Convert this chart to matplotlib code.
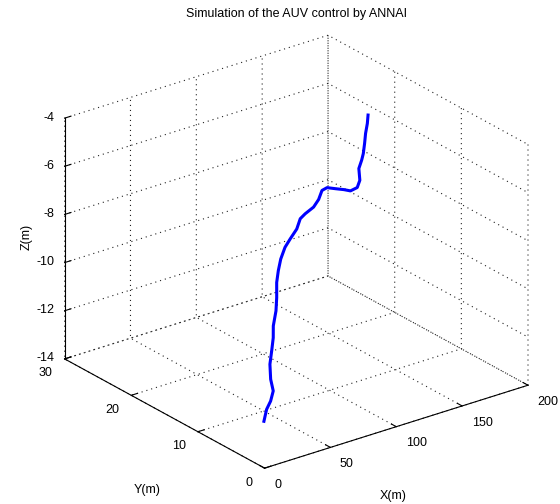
import matplotlib
matplotlib.use("Agg")
import matplotlib.pyplot as plt
from mpl_toolkits.mplot3d import Axes3D  # noqa: F401

plt.rcParams["font.family"] = ["Liberation Sans", "DejaVu Sans"]
plt.rcParams["axes.unicode_minus"] = False

# AUV trajectory
x_m = [41.0, 43.9, 47.8, 50.6, 49.5, 49.8, 52.0, 54.0, 54.9, 57.8, 59.2, 60.0,
       62.1, 64.8, 68.9, 73.6, 79.5, 83.0, 87.6, 94.8, 99.5, 102.9, 107.6,
       114.7, 122.0, 127.9, 133.9, 136.7, 136.8, 139.8, 141.9, 143.7, 145.3,
       147.5, 148.9]
y_m = [8.2, 8.37, 8.54, 8.7, 8.87, 9.04, 9.21, 9.37, 9.54, 9.71, 9.88, 10.04,
       10.21, 10.38, 10.55, 10.71, 10.88, 11.05, 11.22, 11.38, 11.55, 11.72,
       11.89, 12.05, 12.22, 12.39, 12.56, 12.72, 12.89, 13.06, 13.23, 13.39,
       13.56, 13.73, 13.9]
z_m = [-14.0, -13.58, -13.33, -12.98, -12.50, -11.91, -11.42, -10.93, -10.48,
       -9.93, -9.43, -8.84, -8.41, -8.0, -7.61, -7.37, -7.08, -6.74, -6.64,
       -6.51, -6.30, -6.01, -6.0, -6.19, -6.38, -6.56, -6.55, -6.32, -5.86,
       -5.59, -5.38, -5.01, -4.65, -4.30, -4.0]

x_ticks = [0, 50, 100, 150, 200]
y_ticks = [0, 10, 20, 30]
z_ticks = [-14, -12, -10, -8, -6, -4]

fig = plt.figure(figsize=(5.6, 5.04), dpi=100)
ax = fig.add_axes([(44 - 6.5) / 560, -6.5 / 504, 504 / 560, 1.0],
                  projection="3d")
ax.set_proj_type("ortho")
ax.view_init(elev=24.5, azim=-127.2)
ax.set_box_aspect((1, 1, 0.80), zoom=1.035)

ax.plot(x_m, y_m, z_m, color="#0000ff", lw=2.2)

ax.set_xlim(0, 200)
ax.set_ylim(0, 30)
ax.set_zlim(-14, -4)
ax.set_xticks(x_ticks)
ax.set_yticks(y_ticks)
ax.set_zticks(z_ticks)
ax.set_xticklabels([str(v) for v in x_ticks], ha="left", va="center")
ax.set_yticklabels([str(v) for v in y_ticks], ha="right", va="center")
ax.set_zticklabels([str(v) for v in z_ticks], ha="right", va="center")

for axis in (ax.xaxis, ax.yaxis, ax.zaxis):
    axis.set_pane_color((1, 1, 1, 0))
    axis.pane.set_edgecolor("none")
    axis._axinfo["grid"].update(color="#222222", linewidth=0.8,
                                linestyle=(0, (1, 3.5)))
    axis._axinfo["tick"]["inward_factor"] = 0.0
    axis._axinfo["tick"]["outward_factor"] = 0.3
    axis.line.set_color("black")
    axis.line.set_linewidth(0.8)

ax.tick_params(labelsize=9)
ax.tick_params(axis="x", pad=1)
ax.tick_params(axis="y", pad=0.5)
ax.tick_params(axis="z", pad=-4)
ax.set_xlabel("")
ax.set_ylabel("")
ax.set_zlabel("")

fig.text(393 / 560, 1 - 496 / 504, "X(m)", ha="center", va="center",
         fontsize=9)
fig.text(147 / 560, 1 - 490 / 504, "Y(m)", ha="center", va="center",
         fontsize=9)
fig.text(27 / 560, 1 - 237 / 504, "Z(m)", ha="center", va="center",
         fontsize=9, rotation=90)
fig.text(297 / 560, 1 - 14 / 504, "Simulation of the AUV control by ANNAI",
         ha="center", va="center", fontsize=9)

fig.savefig("out.png", dpi=100)
